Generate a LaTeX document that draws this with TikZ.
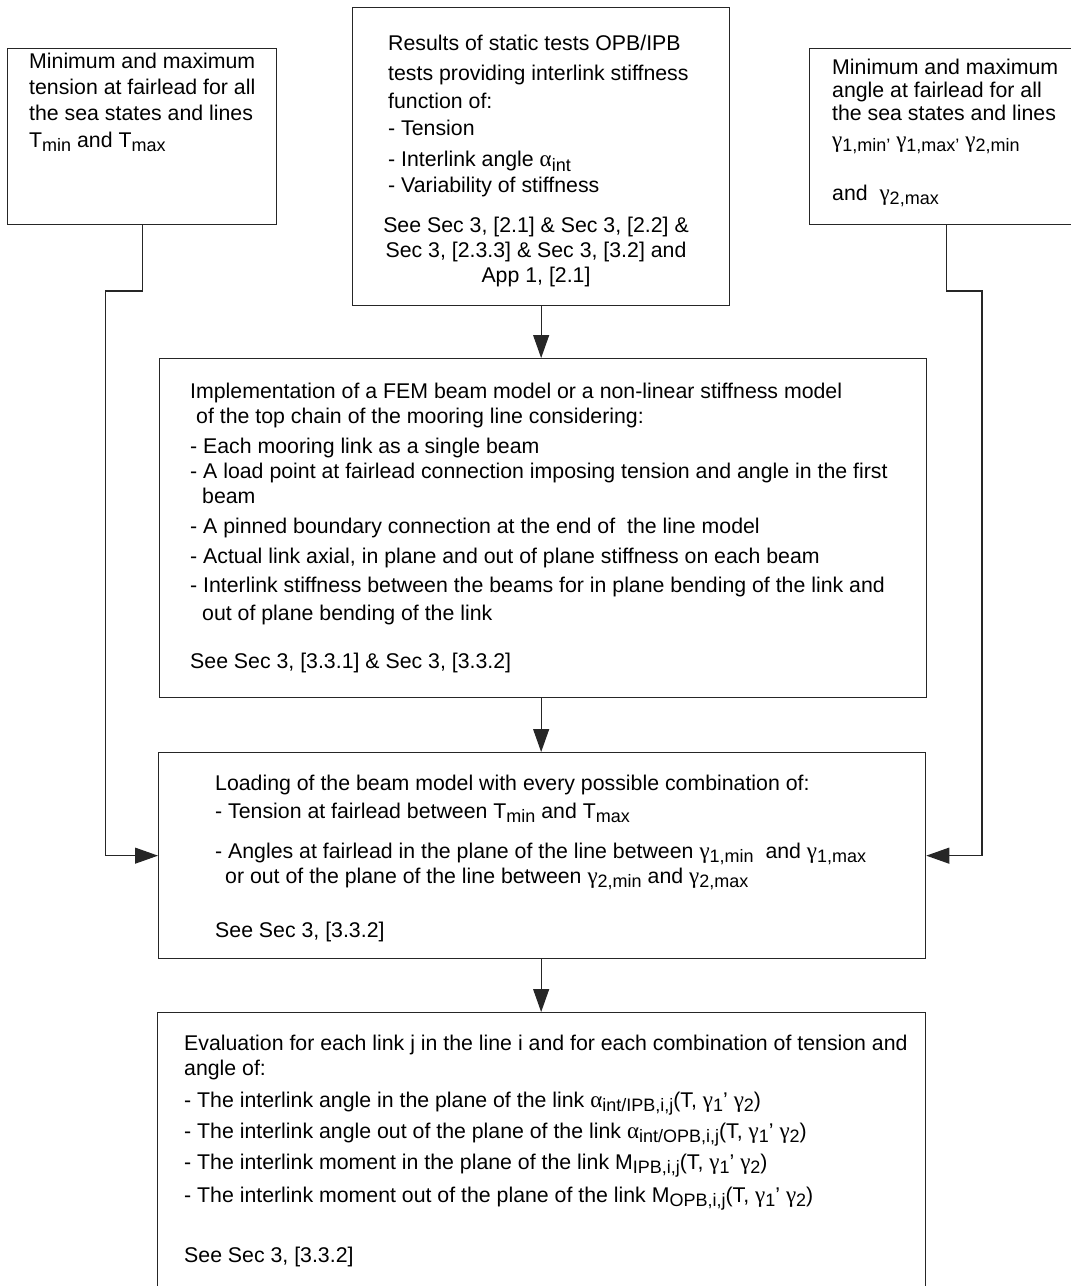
\documentclass[tikz,border=0pt]{standalone}
\usepackage{fontspec}
\setmainfont{Liberation Sans}
\newfontfamily\grk{Liberation Serif}
\usetikzlibrary{arrows.meta}
\newcommand\sub[1]{\raisebox{-4.5pt}{\fontsize{18}{18}\selectfont #1}}
\newcommand\ga{{\grk\fontsize{23}{23}\selectfont γ}}
\newcommand\al{{\grk\fontsize{23}{23}\selectfont α}}
\begin{document}
\begin{tikzpicture}[x=1pt,y=-1pt,
 box/.style={draw=black!85,line width=1.3pt,rectangle,inner sep=0pt,anchor=north west},
 txt/.style={anchor=north west,align=left,inner sep=0pt,font=\fontsize{21.3}{25}\selectfont},
 ctxt/.style={anchor=north,align=center,inner sep=0pt,font=\fontsize{21.3}{25}\selectfont},
 conn/.style={draw=black!85,line width=1.1pt},
 arr/.style={conn,-{Triangle[length=23pt,width=16pt]}}]
\useasboundingbox (0,0) rectangle (1071,1286);
\begin{scope}
\clip (0,0) rectangle (1071,1286);
\node[box,minimum width=269pt,minimum height=176pt] (L) at (7,48) {};
\node[box,minimum width=377pt,minimum height=298pt] (M) at (352,7) {};
\node[box,minimum width=274pt,minimum height=176pt] (R) at (809,48) {};
\node[box,minimum width=767pt,minimum height=339pt] (F) at (159,358) {};
\node[box,minimum width=767pt,minimum height=206pt] (LD) at (158,752) {};
\node[box,minimum width=768pt,minimum height=320pt] (E) at (157,1012) {};
\end{scope}

% texts
\node[txt] (Lt) at (29,52.5) {Minimum and maximum\\[1.3pt]tension at fairlead for all\\[1.3pt]the sea states and lines\\[1.3pt]T\sub{min} and T\sub{max}};

\node[txt] (Mt) at (388,35) {Results of static tests OPB/IPB\\[5pt]tests providing interlink stiffness\\[3pt]function of:\\[2pt]- Tension\\[6pt]- Interlink angle \al\sub{int}\\[1pt]- Variability of stiffness};
\node[ctxt] (Ms) at (536,216.5) {See Sec 3, [2.1] \& Sec 3, [2.2] \&\\[0pt]Sec 3, [2.3.3] \& Sec 3, [3.2] and\\App 1, [2.1]};

\node[txt] (Rt) at (832,58.5) {Minimum and maximum\\[-2pt]angle at fairlead for all\\[-2pt]the sea states and lines\\[2pt]\ga\sub{1,min’} \ga\sub{1,max’} \ga\sub{2,min}\\[28pt]and\ \ \ga\sub{2,max}};

\node[txt] (Ft) at (190,382.5) {Implementation of a FEM beam model or a non-linear stiffness model\\
\hspace{6pt}of the top chain of the mooring line considering:\\[5pt]
- Each mooring link as a single beam\\
- A load point at fairlead connection imposing tension and angle in the first\\
\hspace{12pt}beam\\[5pt]
- A pinned boundary connection at the end of\ \ the line model\\[5pt]
- Actual link axial, in plane and out of plane stiffness on each beam\\[4pt]
- Interlink stiffness between the beams for in plane bending of the link and\\[3pt]
\hspace{12pt}out of plane bending of the link\\[23pt]
See Sec 3, [3.3.1] \& Sec 3, [3.3.2]};

\node[txt] (LDt) at (215,774.5) {Loading of the beam model with every possible combination of:\\[3pt]
- Tension at fairlead between T\sub{min} and T\sub{max}\\[15pt]
- Angles at fairlead in the plane of the line between \ga\sub{1,min}\ \ and \ga\sub{1,max}\\
\hspace{10pt}or out of the plane of the line between \ga\sub{2,min} and \ga\sub{2,max}\\[29pt]
See Sec 3, [3.3.2]};

\node[txt] (Et) at (184,1034.5) {Evaluation for each link j in the line i and for each combination of tension and\\
angle of:\\[7pt]
- The interlink angle in the plane of the link \al\sub{int/IPB,i,j}(T, \ga\sub{1}’ \ga\sub{2})\\[6pt]
- The interlink angle out of the plane of the link \al\sub{int/OPB,i,j}(T, \ga\sub{1}’ \ga\sub{2})\\[6pt]
- The interlink moment in the plane of the link M\sub{IPB,i,j}(T, \ga\sub{1}’ \ga\sub{2})\\[8pt]
- The interlink moment out of the plane of the link M\sub{OPB,i,j}(T, \ga\sub{1}’ \ga\sub{2})\\[35pt]
See Sec 3, [3.3.2]};

% connectors
\coordinate (lk) at (105.5,291);
\coordinate (rk) at (982,291);
\draw[arr] (L.south) |- (lk) |- (LD.west);
\draw[arr] (R.south) |- (rk) |- (LD.east);
\draw[arr] (M.south) -- (M.south |- F.north);
\draw[arr] (M.south |- F.south) -- (M.south |- LD.north);
\draw[arr] (M.south |- LD.south) -- (M.south |- E.north);
\end{tikzpicture}
\end{document}
